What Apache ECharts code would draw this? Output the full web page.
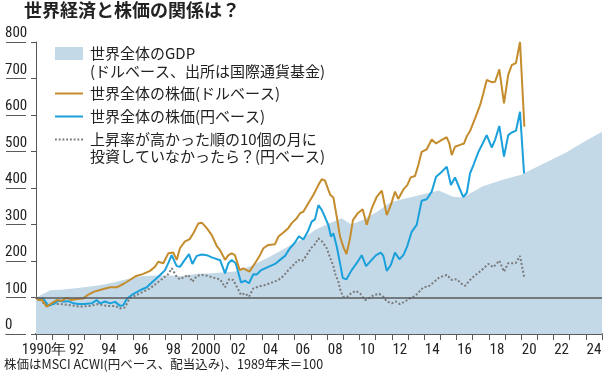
<!DOCTYPE html>
<html>
<head>
<meta charset="utf-8">
<script src="https://cdn.jsdelivr.net/npm/echarts@6/dist/echarts.min.js"></script>
<style>
html, body { margin: 0; padding: 0; background: #fff; }
#chart { width: 609px; height: 377px; }
</style>
</head>
<body>
<div id="chart"></div>
<script>
// tick labels for the bottom axis (one slot per year)
var yearLabels = ['1990','1991','1992','1993','1994','1995','1996','1997','1998','1999',
    '2000','2001','2002','2003','2004','2005','2006','2007','2008','2009',
    '2010','2011','2012','2013','2014','2015','2016','2017','2018','2019',
    '2020','2021','2022','2023','2024'];

// world GDP (dollar base), 1989 end = 100
var gdpYears  = [1990.0, 1990.9, 1991.7, 1992.7, 1993.75, 1994.6, 1995.4, 1996.0, 1996.6, 1997.5,
    1998.3, 1998.9, 2000.0, 2000.7, 2002.3, 2003.3, 2004.4, 2005.4, 2006.4, 2007.25,
    2008.1, 2008.9, 2009.5, 2010.2, 2011.1, 2011.9, 2012.7, 2013.75, 2014.9, 2015.8,
    2016.4, 2017.6, 2018.8, 2020.0, 2021.2, 2022.7, 2023.9, 2025.0];
var gdpValues = [100, 120, 122, 127, 132, 139, 148, 154, 159, 160,
    160, 158, 165, 166, 171, 186, 210, 235, 259, 285,
    303, 317, 300, 312, 335, 360, 370, 381, 393, 376,
    374, 404, 422, 436, 463, 495, 527, 554];

// world stocks, dollar base
var usdYears  = [1990.0, 1990.14, 1990.35, 1990.66, 1990.97, 1991.28, 1991.59, 1991.9, 1992.2, 1992.5,
    1992.9, 1993.2, 1993.6, 1994.06, 1994.58, 1994.99, 1995.4, 1995.8, 1996.2, 1996.6,
    1997.05, 1997.36, 1997.56, 1997.87, 1998.18, 1998.49, 1998.7, 1998.9, 1999.2, 1999.5,
    1999.73, 2000.04, 2000.25, 2000.56, 2000.87, 2001.18, 2001.38, 2001.69, 2001.9, 2002.1,
    2002.3, 2002.6, 2002.82, 2003.03, 2003.2, 2003.54, 2003.85, 2004.06, 2004.37, 2004.78,
    2004.99, 2005.3, 2005.6, 2005.8, 2006.12, 2006.33, 2006.53, 2006.84, 2007.15, 2007.46,
    2007.67, 2007.87, 2008.08, 2008.2, 2008.39, 2008.6, 2008.8, 2009.0, 2009.2, 2009.4,
    2009.6, 2009.9, 2010.2, 2010.45, 2010.76, 2011.07, 2011.38, 2011.48, 2011.69, 2011.94,
    2012.2, 2012.4, 2012.72, 2012.96, 2013.17, 2013.44, 2013.64, 2013.85, 2014.16, 2014.47,
    2014.74, 2015.09, 2015.4, 2015.56, 2015.71, 2015.91, 2016.22, 2016.47, 2016.64, 2016.84,
    2016.94, 2017.15, 2017.46, 2017.66, 2017.87, 2018.18, 2018.39, 2018.65, 2018.94, 2019.2,
    2019.42, 2019.68, 2019.93, 2020.2];
var usdValues = [100, 93, 95, 75, 84, 93, 91, 99, 93, 96,
    97, 107, 116, 122, 128, 128, 137, 148, 159, 164,
    173, 184, 198, 194, 221, 223, 203, 235, 253, 260,
    276, 303, 305, 290, 271, 241, 230, 203, 216, 221,
    216, 175, 180, 175, 171, 194, 216, 235, 244, 246,
    267, 278, 290, 303, 317, 331, 335, 358, 381, 408,
    424, 420, 395, 381, 374, 321, 267, 239, 219, 258,
    312, 331, 342, 299, 344, 376, 393, 390, 326, 353,
    390, 370, 396, 408, 429, 433, 463, 499, 506, 533,
    522, 532, 539, 522, 490, 513, 518, 522, 542, 556,
    561, 591, 627, 659, 696, 690, 691, 725, 632, 710,
    737, 742, 800, 568];

// world stocks, yen base
var jpyYears  = [1990.0, 1990.14, 1990.45, 1990.76, 1991.07, 1991.38, 1991.69, 1992.0, 1992.3, 1992.6,
    1993.0, 1993.44, 1993.75, 1993.96, 1994.27, 1994.58, 1994.89, 1995.2, 1995.4, 1995.6,
    1995.92, 1996.23, 1996.54, 1996.85, 1997.16, 1997.46, 1997.77, 1997.98, 1998.18, 1998.39,
    1998.5, 1998.7, 1998.9, 1999.2, 1999.46, 1999.67, 1999.94, 2000.25, 2000.56, 2000.87,
    2001.18, 2001.38, 2001.69, 2001.9, 2002.1, 2002.35, 2002.68, 2002.92, 2003.17, 2003.44,
    2003.65, 2003.92, 2004.16, 2004.47, 2004.78, 2005.09, 2005.4, 2005.7, 2006.0, 2006.26,
    2006.53, 2006.8, 2007.05, 2007.25, 2007.46, 2007.67, 2007.87, 2008.08, 2008.24, 2008.39,
    2008.6, 2008.8, 2008.97, 2009.2, 2009.52, 2009.83, 2010.14, 2010.41, 2010.76, 2011.03,
    2011.32, 2011.48, 2011.69, 2011.94, 2012.2, 2012.47, 2012.72, 2012.96, 2013.23, 2013.54,
    2013.85, 2014.16, 2014.47, 2014.74, 2015.03, 2015.4, 2015.66, 2015.91, 2016.18, 2016.42,
    2016.64, 2016.84, 2017.05, 2017.36, 2017.62, 2017.87, 2018.18, 2018.39, 2018.65, 2018.94,
    2019.2, 2019.42, 2019.68, 2019.93, 2020.18];
var jpyValues = [100, 95, 98, 77, 82, 91, 89, 90, 84, 82,
    82, 84, 93, 84, 89, 84, 88, 77, 79, 95,
    107, 115, 122, 128, 141, 153, 166, 175, 194, 216,
    214, 186, 184, 203, 219, 192, 214, 218, 216, 210,
    205, 203, 166, 194, 203, 194, 141, 146, 139, 164,
    163, 175, 180, 186, 192, 203, 214, 235, 250, 268,
    259, 280, 308, 314, 353, 340, 320, 298, 267, 276,
    239, 194, 153, 150, 175, 194, 216, 186, 203, 216,
    223, 214, 173, 189, 223, 205, 216, 241, 280, 299,
    365, 369, 390, 431, 442, 458, 408, 429, 400, 375,
    387, 440, 463, 499, 522, 545, 511, 532, 570, 486,
    545, 552, 557, 609, 440];

// yen base, skipping the ten best months
var skipYears  = [1990.0, 1990.25, 1990.66, 1991.0, 1991.5, 1992.1, 1992.7, 1993.34, 1993.85, 1994.37,
    1994.89, 1995.2, 1995.5, 1995.8, 1996.23, 1996.64, 1997.05, 1997.46, 1997.87, 1998.18,
    1998.39, 1998.7, 1998.9, 1999.2, 1999.42, 1999.67, 1999.94, 2000.25, 2000.66, 2001.07,
    2001.38, 2001.69, 2001.94, 2002.2, 2002.41, 2002.68, 2002.92, 2003.17, 2003.44, 2003.75,
    2004.16, 2004.58, 2004.99, 2005.3, 2005.6, 2005.91, 2006.22, 2006.47, 2006.74, 2007.0,
    2007.21, 2007.46, 2007.7, 2007.98, 2008.18, 2008.39, 2008.49, 2008.7, 2008.85, 2009.0,
    2009.25, 2009.52, 2009.79, 2010.04, 2010.35, 2010.66, 2010.9, 2011.23, 2011.48, 2011.69,
    2012.0, 2012.26, 2012.5, 2012.82, 2013.13, 2013.44, 2013.7, 2013.95, 2014.26, 2014.57,
    2014.88, 2015.19, 2015.4, 2015.71, 2016.02, 2016.33, 2016.53, 2016.84, 2017.05, 2017.56,
    2017.97, 2018.28, 2018.65, 2018.94, 2019.2, 2019.5, 2019.68, 2019.93, 2020.18];
var skipValues = [100, 93, 77, 82, 82, 79, 75, 77, 82, 77,
    77, 70, 73, 98, 107, 116, 125, 139, 153, 164,
    180, 157, 150, 157, 162, 143, 159, 162, 159, 153,
    150, 128, 150, 148, 130, 107, 111, 102, 125, 130,
    134, 141, 148, 159, 175, 189, 203, 200, 216, 235,
    244, 262, 253, 235, 210, 186, 166, 143, 116, 102,
    102, 113, 118, 111, 93, 100, 107, 110, 102, 89,
    84, 89, 82, 89, 98, 104, 116, 128, 130, 141,
    153, 159, 162, 148, 150, 137, 132, 148, 157, 175,
    192, 183, 201, 171, 194, 194, 195, 214, 157];

function pairs(xs, ys) {
    return xs.map(function (x, i) { return [x, ys[i]]; });
}

var jpFont = '"Noto Sans CJK JP", sans-serif';
var numFont = '"Liberation Sans Narrow", "Roboto Condensed", "DejaVu Sans Condensed", sans-serif';
var gdpColor = '#c3d9e8';
var usdColor = '#c48c2c';
var jpyColor = '#1aa0da';
var skipColor = '#7a7a7a';
var ruleColor = '#5a5a5a';

var names = ['世界全体のGDP', '世界全体の株価(ドルベース)', '世界全体の株価(円ベース)', '上昇率が高かった順の10個の月に'];

// little squares for the dotted legend key
var dotIcon = 'path://M0,0h2v2h-2zM4,0h2v2h-2zM8,0h2v2h-2zM12,0h2v2h-2zM16,0h2v2h-2zM20,0h2v2h-2zM24,0h2v2h-2zM28,0h2v2h-2z';

const chart = echarts.init(document.getElementById('chart'));

function legendAt(item, top, h) {
    return {
        data: [item],
        left: 55,
        top: top,
        padding: 0,
        itemWidth: 28,
        itemHeight: h,
        textStyle: { fontSize: 15, fontFamily: jpFont, color: '#222', padding: [0, 0, 0, 2] },
        selectedMode: false
    };
}

var option = {
    animation: false,
    title: [
        {
            text: '世界経済と株価の関係は？',
            left: 24, top: 1, padding: 0,
            textStyle: { fontSize: 18, fontWeight: 'bold', color: '#222', fontFamily: jpFont }
        },
        {
            text: '株価はMSCI ACWI(円ベース、配当込み)、1989年末＝100',
            left: 4, top: 358, padding: 0,
            textStyle: { fontSize: 12.5, fontWeight: 'normal', color: '#222', fontFamily: jpFont }
        }
    ],
    legend: [
        legendAt({ name: names[0], icon: 'rect', itemStyle: { color: gdpColor } }, 46, 13),
        legendAt({ name: names[1], icon: 'rect', itemStyle: { color: usdColor } }, 86, 2),
        legendAt({ name: names[2], icon: 'rect', itemStyle: { color: jpyColor } }, 109, 2),
        legendAt({ name: names[3], icon: dotIcon, itemStyle: { color: skipColor } }, 132, 2)
    ],
    graphic: [
        { type: 'text', left: 90, top: 64, style: { text: '(ドルベース、出所は国際通貨基金)', font: '15px ' + jpFont, fill: '#222' } },
        { type: 'text', left: 90, top: 149, style: { text: '投資していなかったら？(円ベース)', font: '15px ' + jpFont, fill: '#222' } }
    ],
    grid: [
        { left: 36, right: 7, top: 42, bottom: 43 },
        // narrow strip holding the underlined value labels
        { left: 5, width: 21, top: 42, bottom: 43 },
        // thin strip under the plot for the year ticks
        { left: 36, right: 7, top: 335, height: 5 }
    ],
    xAxis: [
        {
            type: 'category',
            data: yearLabels,
            boundaryGap: true,
            axisLine: { lineStyle: { color: ruleColor, width: 2 } },
            axisLabel: {
                interval: 1,
                margin: 9,
                fontSize: 15,
                fontFamily: numFont,
                color: '#222',
                hideOverlap: false,
                formatter: function (v) {
                    if (v === '1990') return '1990年';
                    if (v === '2000') return '2000';
                    return v.slice(2);
                }
            },
            splitLine: { show: false }
        },
        { type: 'value', min: 1990, max: 2025, show: false },
        { type: 'value', gridIndex: 1, min: 0, max: 1, show: false },
        {
            type: 'value', gridIndex: 2, min: 1990, max: 2025, interval: 1,
            axisLine: { lineStyle: { color: '#fff' } },
            axisTick: { lineStyle: { color: '#fff' } },
            axisLabel: { show: false },
            splitLine: { lineStyle: { color: ruleColor, width: 1 } }
        }
    ],
    yAxis: [
        {
            type: 'value', min: 0, max: 800, interval: 100,
            axisLabel: { show: false },
            splitLine: { show: false }
        },
        {
            type: 'value', gridIndex: 1, min: 0, max: 800, interval: 100,
            axisLine: { lineStyle: { color: '#fff' } },
            axisTick: { lineStyle: { color: '#fff' } },
            splitLine: { lineStyle: { color: ruleColor, width: 1 } },
            axisLabel: {
                inside: true, margin: 0, align: 'left', verticalAlign: 'bottom',
                fontSize: 15, fontFamily: numFont, color: '#222',
                padding: [0, 0, 1, 0]
            }
        },
        { type: 'value', gridIndex: 2, min: 0, max: 1, show: false }
    ],
    series: [
        {
            name: names[0], type: 'line', xAxisIndex: 1, yAxisIndex: 0,
            data: pairs(gdpYears, gdpValues),
            symbol: 'none',
            lineStyle: { width: 0 },
            itemStyle: { color: gdpColor },
            areaStyle: { color: gdpColor, opacity: 1 },
            markLine: {
                silent: true, symbol: 'none', label: { show: false },
                lineStyle: { color: ruleColor, width: 1.5, type: 'solid' },
                data: [{ yAxis: 100 }]
            }
        },
        {
            name: names[3], type: 'line', xAxisIndex: 1, yAxisIndex: 0,
            data: pairs(skipYears, skipValues),
            symbol: 'none',
            lineStyle: { color: skipColor, width: 2, type: [2, 2] },
            itemStyle: { color: skipColor }
        },
        {
            name: names[2], type: 'line', xAxisIndex: 1, yAxisIndex: 0,
            data: pairs(jpyYears, jpyValues),
            symbol: 'none',
            lineStyle: { color: jpyColor, width: 2 },
            itemStyle: { color: jpyColor }
        },
        {
            name: names[1], type: 'line', xAxisIndex: 1, yAxisIndex: 0,
            data: pairs(usdYears, usdValues),
            symbol: 'none', clip: false,
            lineStyle: { color: usdColor, width: 2 },
            itemStyle: { color: usdColor }
        }
    ]
};

chart.setOption(option);
</script>
</body>
</html>
